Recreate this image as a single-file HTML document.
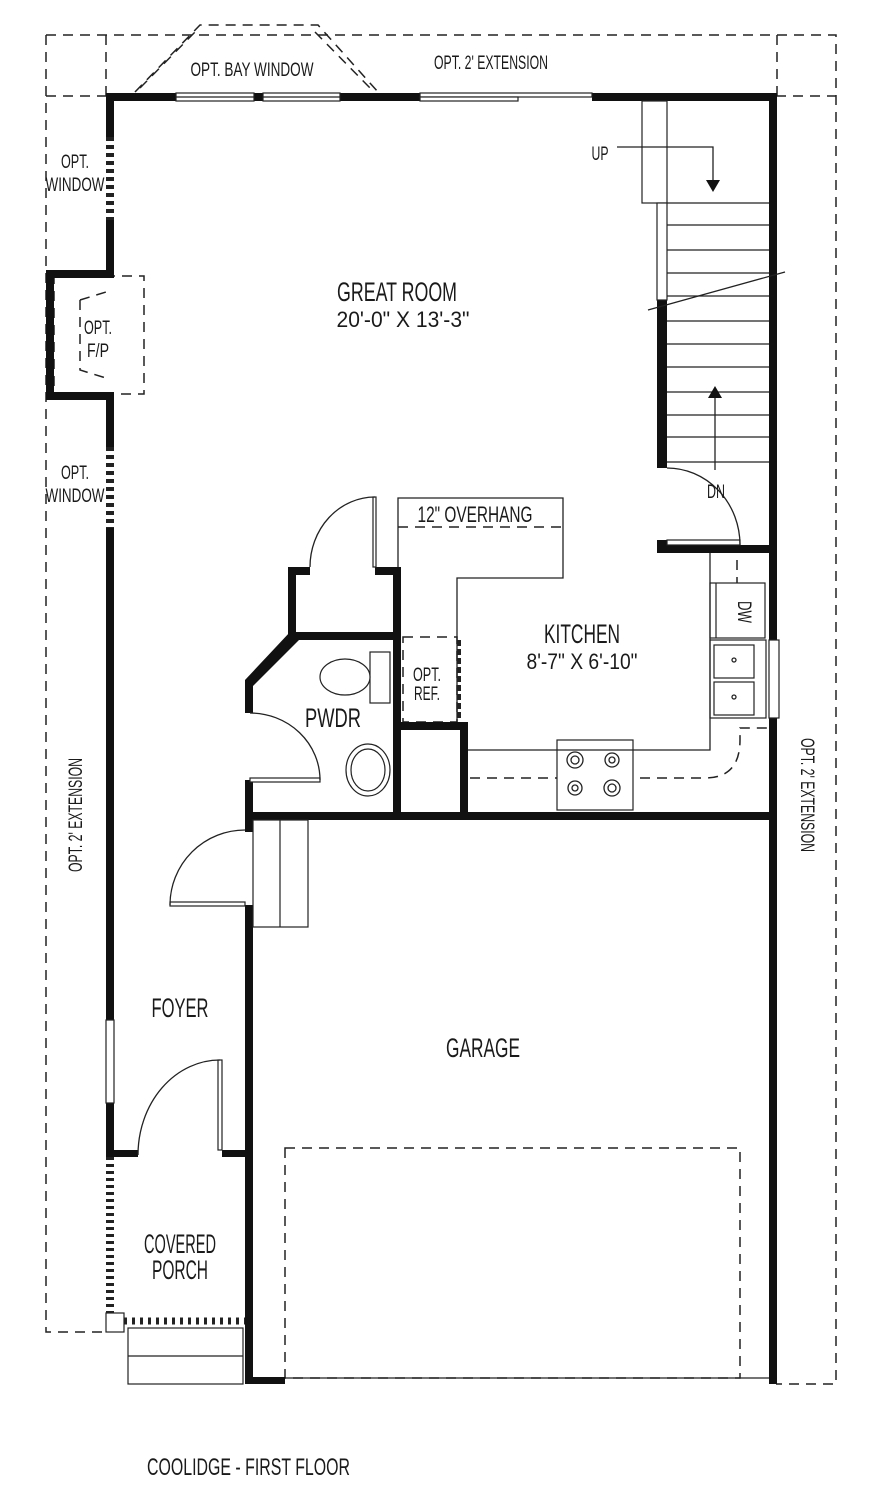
<!DOCTYPE html>
<html><head><meta charset="utf-8"><style>
html,body{margin:0;padding:0;background:#fff}
svg{display:block}
text{font-family:"Liberation Sans Narrow","Liberation Sans",sans-serif;fill:#1a1a1a}
</style></head><body>
<svg width="894" height="1502" viewBox="0 0 894 1502" xmlns="http://www.w3.org/2000/svg">
<g fill="none" stroke="#222" stroke-width="1.5" stroke-dasharray="10,7">
<path d="M46,35 H836 V1384 H776"/>
<path d="M46,35 V1332 H106"/>
<path d="M46,96 H106 M776,96 H836 M106,35 V96 M777,35 V96"/>
<path d="M135,92 L200,25 H318 L378,92"/>
<path d="M140,88 L195,32 M315,32 L372,90"/>
<rect x="54" y="276" width="90" height="118"/>
<path d="M80,300 L106,292 M80,300 V370 L106,378"/>
<path d="M398,527 H563"/>
<rect x="403" y="637" width="54" height="85"/>
<path d="M470,778 H705 Q740,778 740,740 V728 H770"/>
<path d="M737,560 V640"/>
<rect x="285" y="1148" width="455" height="230"/>
<path d="M110,1157 V1313" stroke-width="8" stroke-dasharray="3,4"/>
<path d="M124,1321 H245" stroke-width="7" stroke-dasharray="3,5"/>
<path d="M110,137 V220 M110,447 V528" stroke-width="8" stroke-dasharray="4,4"/>
<path d="M459,640 V720" stroke-width="4" stroke-dasharray="6,3"/>
</g>
<g fill="#111">
<rect x="106" y="93" width="70" height="8"/>
<rect x="340" y="93" width="80" height="8"/>
<rect x="254" y="93" width="9" height="8"/>
<rect x="592" y="93" width="185" height="8"/>
<rect x="769" y="93" width="8" height="547"/>
<rect x="769" y="718" width="8" height="666"/>
<rect x="106" y="93" width="8" height="44"/>
<rect x="106" y="220" width="8" height="58"/>
<rect x="46" y="270" width="68" height="8"/>
<rect x="46" y="270" width="8" height="130"/>
<rect x="46" y="392" width="68" height="8"/>
<rect x="106" y="392" width="8" height="55"/>
<rect x="106" y="528" width="8" height="492"/>
<rect x="106" y="1103" width="8" height="54"/>
<rect x="106" y="1150" width="32" height="7"/>
<rect x="222" y="1150" width="31" height="7"/>
<rect x="657" y="300" width="10" height="168"/>
<rect x="657" y="545" width="120" height="8"/>
<rect x="657" y="540" width="10" height="13"/>
<rect x="288" y="567" width="8" height="73"/>
<rect x="288" y="567" width="22" height="8"/>
<rect x="375" y="567" width="26" height="8"/>
<rect x="393" y="567" width="8" height="253"/>
<rect x="288" y="632" width="113" height="8"/>
<polygon points="290,632 299,640 253,686 245,686 245,680"/>
<rect x="245" y="680" width="8" height="33"/>
<rect x="245" y="780" width="8" height="52"/>
<rect x="245" y="812" width="532" height="8"/>
<rect x="401" y="722" width="67" height="8"/>
<rect x="460" y="722" width="8" height="98"/>
<rect x="245" y="905" width="8" height="479"/>
<rect x="245" y="1377" width="40" height="7"/>
</g>
<g fill="#fff" stroke="#222" stroke-width="1.2">
<rect x="176" y="93" width="78" height="8"/><line x1="176" y1="97" x2="254" y2="97"/>
<rect x="263" y="93" width="77" height="8"/><line x1="263" y1="97" x2="340" y2="97"/>
<rect x="420" y="93" width="172" height="4"/><rect x="420" y="97" width="98" height="4"/>
<rect x="106" y="1020" width="8" height="83"/>
<rect x="769" y="640" width="10" height="78"/>
<rect x="642" y="101" width="25" height="102"/>
<rect x="657" y="203" width="10" height="97"/>
<rect x="128" y="1328" width="115" height="56"/><line x1="128" y1="1356" x2="243" y2="1356"/>
<rect x="106" y="1313" width="18" height="19"/>
<rect x="253" y="820" width="55" height="107"/><line x1="280" y1="820" x2="280" y2="927"/>
<rect x="710" y="583" width="55" height="55"/><line x1="716" y1="583" x2="716" y2="638"/>
<rect x="710" y="640" width="56" height="78"/>
<rect x="714" y="645" width="40" height="33"/><rect x="714" y="682" width="40" height="33"/>
<rect x="370" y="652" width="20" height="51"/>
<ellipse cx="345" cy="677" rx="25" ry="18"/>
<ellipse cx="368" cy="770" rx="22" ry="26"/><ellipse cx="368" cy="770" rx="17" ry="21"/>
<rect x="557" y="740" width="76" height="70"/>
<rect x="667" y="540" width="73" height="5"/>
<rect x="373" y="497" width="3" height="70"/>
<rect x="250" y="778" width="70" height="4"/>
<rect x="218" y="1060" width="4" height="90"/>
<rect x="170" y="902" width="75" height="4"/>
</g>
<g fill="none" stroke="#222" stroke-width="1.3">
<path d="M667,203 H769 M667,225 H769 M667,250 H769 M667,273 H769 M667,296 H769 M667,321 H769 M667,344 H769 M667,367 H769 M667,392 H769 M667,415 H769 M667,437 H769 M667,462 H769" />
<path d="M648,310 L785,272"/>
<path d="M617,147 H713 V182"/>
<path d="M715,470 V395"/>
<path d="M667,468 A73,77 0 0 1 740,545"/>
<path d="M375,497 A65,70 0 0 0 310,567"/>
<path d="M250,713 A70,67 0 0 1 320,780"/>
<path d="M245,830 A75,75 0 0 0 170,905"/>
<path d="M220,1060 A82,95 0 0 0 138,1155"/>
<path d="M398,567 V498 H563 V578 H457 V722"/>
<path d="M468,750 H710 V553"/>
<path d="M285,1378 H769"/>
<circle cx="575" cy="760" r="8"/><circle cx="575" cy="760" r="4"/>
<circle cx="612" cy="760" r="7"/><circle cx="612" cy="760" r="3"/>
<circle cx="575" cy="788" r="7"/><circle cx="575" cy="788" r="3"/>
<circle cx="612" cy="788" r="8"/><circle cx="612" cy="788" r="4"/>
<circle cx="734" cy="660" r="2"/><circle cx="734" cy="697" r="2"/>
</g>
<polygon points="706,180 720,180 713,192" fill="#111"/>
<polygon points="708,398 722,398 715,386" fill="#111"/>
<g font-size="27" text-anchor="middle">
<text x="397" y="301" textLength="120" lengthAdjust="spacingAndGlyphs">GREAT ROOM</text>
<text x="582" y="643" textLength="76" lengthAdjust="spacingAndGlyphs">KITCHEN</text>
<text x="333" y="727" textLength="56" lengthAdjust="spacingAndGlyphs">PWDR</text>
<text x="180" y="1017" textLength="57" lengthAdjust="spacingAndGlyphs">FOYER</text>
<text x="483" y="1057" textLength="74" lengthAdjust="spacingAndGlyphs">GARAGE</text>
<text x="180" y="1253" textLength="72" lengthAdjust="spacingAndGlyphs">COVERED</text>
<text x="180" y="1279" textLength="56" lengthAdjust="spacingAndGlyphs">PORCH</text>
</g>
<g font-size="22" text-anchor="middle">
<text x="403" y="327" textLength="133" lengthAdjust="spacingAndGlyphs">20'-0" X 13'-3"</text>
<text x="582" y="669" textLength="111" lengthAdjust="spacingAndGlyphs">8'-7" X 6'-10"</text>
<text x="475" y="522" textLength="115" lengthAdjust="spacingAndGlyphs">12" OVERHANG</text>
</g>
<g font-size="19" text-anchor="middle">
<text x="252" y="76" textLength="123" lengthAdjust="spacingAndGlyphs">OPT. BAY WINDOW</text>
<text x="491" y="69" textLength="114" lengthAdjust="spacingAndGlyphs">OPT. 2' EXTENSION</text>
<text x="75" y="168" textLength="28" lengthAdjust="spacingAndGlyphs">OPT.</text><text x="75" y="191" textLength="59" lengthAdjust="spacingAndGlyphs">WINDOW</text>
<text x="98" y="334" textLength="28" lengthAdjust="spacingAndGlyphs">OPT.</text><text x="98" y="357" textLength="22" lengthAdjust="spacingAndGlyphs">F/P</text>
<text x="75" y="479" textLength="28" lengthAdjust="spacingAndGlyphs">OPT.</text><text x="75" y="502" textLength="59" lengthAdjust="spacingAndGlyphs">WINDOW</text>
<text x="427" y="681" textLength="28" lengthAdjust="spacingAndGlyphs">OPT.</text><text x="427" y="700" textLength="26" lengthAdjust="spacingAndGlyphs">REF.</text>
<text x="600" y="160" textLength="17" lengthAdjust="spacingAndGlyphs">UP</text>
<text x="716" y="498" textLength="18" lengthAdjust="spacingAndGlyphs">DN</text>
<text transform="translate(82,815) rotate(-90)" textLength="114" lengthAdjust="spacingAndGlyphs">OPT. 2' EXTENSION</text>
<text transform="translate(801,795) rotate(90)" textLength="114" lengthAdjust="spacingAndGlyphs">OPT. 2' EXTENSION</text>
<text transform="translate(738,612) rotate(90)" textLength="22" lengthAdjust="spacingAndGlyphs">DW</text>
</g>
<text x="147" y="1475" font-size="24" textLength="203" lengthAdjust="spacingAndGlyphs">COOLIDGE - FIRST FLOOR</text>
</svg>
</body></html>
